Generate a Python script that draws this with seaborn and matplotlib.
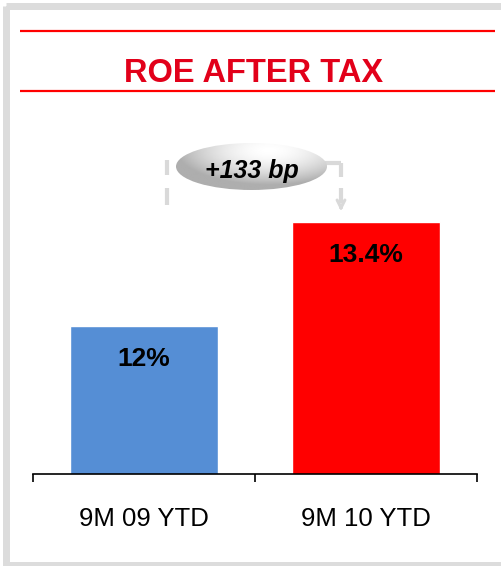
import numpy as np
import pandas as pd
import seaborn as sns
import matplotlib.pyplot as plt
from matplotlib.patches import Ellipse, Rectangle

# data
periods = ["9M 09 YTD", "9M 10 YTD"]
roe = [12.0, 13.4]
labels = ["12%", "13.4%"]
delta_label = "+133 bp"
title = "ROE AFTER TAX"
bar_colors = ["#558ed5", "#ff0000"]

df = pd.DataFrame({"period": periods, "roe": roe})

sns.set_style("white")
plt.rcParams["font.family"] = ["Liberation Sans", "DejaVu Sans"]

W, H = 502, 566
fig = plt.figure(figsize=(W / 100, H / 100), dpi=100)
fig.patch.set_facecolor("white")

# main bar axes (pixel layout: baseline at y=474, x from 33 to 477)
ax = fig.add_axes([33 / W, (H - 474) / H, 444 / W, 374 / H])
sns.barplot(data=df, x="period", y="roe", hue="period", palette=bar_colors,
            width=0.667, legend=False, saturation=1, ax=ax)
ax.set_xlim(-0.5, 1.5)
ax.set_ylim(10, 10 + 374 / 74)
ax.set_xlabel("")
ax.set_ylabel("")
ax.set_yticks([])
for s in ["left", "right", "top"]:
    ax.spines[s].set_visible(False)
ax.spines["bottom"].set_linewidth(1.2)
ax.spines["bottom"].set_color("black")
ax.set_xticks([-0.5, 0.5, 1.5], minor=True)
ax.tick_params(axis="x", which="minor", bottom=True, length=6, width=1.2,
               direction="out", color="black")
ax.tick_params(axis="x", which="major", bottom=False, length=0, pad=24,
               labelsize=18.5, labelcolor="black")

for i, (v, lab) in enumerate(zip(roe, labels)):
    ax.text(i, v - 0.44, lab, ha="center", va="center", fontsize=19,
            fontweight="bold", color="black")

# overlay in pixel coordinates for frame, title and bubble
ov = fig.add_axes([0, 0, 1, 1], zorder=5)
ov.set_xlim(0, W)
ov.set_ylim(H, 0)
ov.axis("off")

ov.add_patch(Rectangle((6.5, 6), 520, 559, fill=False, edgecolor="#dcdcdc",
                       linewidth=5))
for yy in [30.5, 90.5]:
    ov.plot([20, 495], [yy, yy], color="#ff0000", lw=1.6, solid_capstyle="butt")
ov.text(254, 73, title, ha="center", va="center", fontsize=23.5,
        fontweight="bold", color="#e2001a")

# dashed bracket
gc = "#d9d9d9"
for seg in [([167, 167], [160, 175]), ([167, 167], [188, 205]),
            ([320, 341], [163, 163]), ([341, 341], [163, 177]),
            ([341, 341], [188, 203])]:
    ov.plot(seg[0], seg[1], color=gc, lw=3, solid_capstyle="butt", zorder=1)
ov.annotate("", xy=(341, 214), xytext=(341, 202),
            arrowprops=dict(arrowstyle="->", color=gc, lw=2.2,
                            mutation_scale=14), zorder=1)

# gradient bubble
ex0, ex1, ey0, ey1 = 176, 327, 143, 190
u, v = np.meshgrid(np.linspace(0, 1, 200), np.linspace(0, 1, 80))
r = np.sqrt(((u - 0.62) / 1.0) ** 2 + ((v - 0.15) / 1.2) ** 2)
grad = 1 - 0.32 * np.clip(r / 0.62, 0, 1) ** 1.8
img = ov.imshow(grad, cmap="gray", vmin=0, vmax=1, extent=(ex0, ex1, ey1, ey0),
                aspect="auto", zorder=3, interpolation="bilinear")
ell = Ellipse(((ex0 + ex1) / 2, (ey0 + ey1) / 2), ex1 - ex0, ey1 - ey0,
              facecolor="none", edgecolor="none", zorder=3)
ov.add_patch(ell)
img.set_clip_path(ell)
ov.set_xlim(0, W)
ov.set_ylim(H, 0)
ov.text(252, 171, delta_label, ha="center", va="center", fontsize=18,
        fontweight="bold", fontstyle="italic", color="black", zorder=4)

fig.savefig("out.png", dpi=100)
